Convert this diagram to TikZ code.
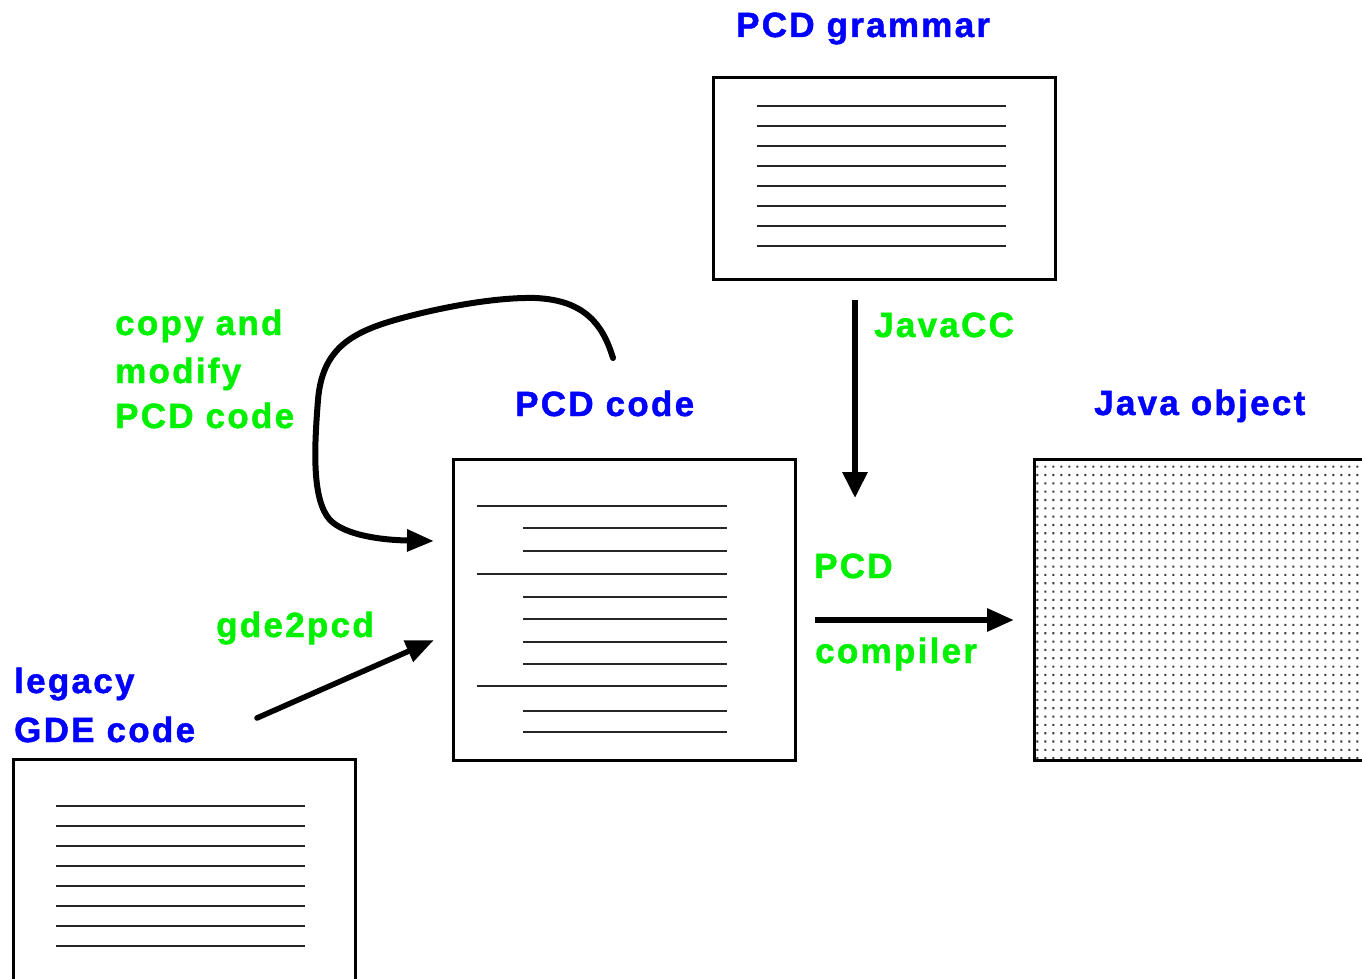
\documentclass[tikz,border=0pt]{standalone}
\usepackage{fontspec}
\setmainfont{Liberation Sans}[LetterSpace=6.5, BoldFeatures={FakeBold=1.3}]
\usetikzlibrary{arrows.meta}
\definecolor{lblue}{RGB}{0,0,255}
\definecolor{lgreen}{RGB}{0,240,0}
\definecolor{dotgray}{RGB}{60,60,60}
\tikzset{
  docbox/.style={draw=black, line width=3pt, fill=white, inner sep=0pt},
  txtline/.style={line width=2pt, draw=black!85},
  flow/.style={line width=6pt, -{Triangle[length=26pt,width=24pt]}},
  bluelbl/.style={text=lblue, font=\fontsize{35}{42}\selectfont\bfseries, inner sep=0pt, anchor=base west},
  greenlbl/.style={text=lgreen, font=\fontsize{35}{42}\selectfont\bfseries, inner sep=0pt, anchor=base west}
}
\begin{document}
\begin{tikzpicture}[x=1pt,y=-1pt]
\useasboundingbox (0,0) rectangle (1362,979);
\clip (0,0) rectangle (1362,979);

% PCD grammar box
\node[docbox, minimum width=342pt, minimum height=201pt] (grammar) at (884,178.5) {};
\foreach \yy in {106,126,146,166,186,206,226,246}
  \draw[txtline] (757,\yy) -- (1006,\yy);

% PCD code box
\node[docbox, minimum width=342pt, minimum height=301pt] (code) at (624,609.5) {};
\foreach \yy in {506,574,686}
  \draw[txtline] (477,\yy) -- (727,\yy);
\foreach \yy in {528,551,597,619,642,664,711,732}
  \draw[txtline] (523,\yy) -- (727,\yy);

% legacy box
\node[docbox, minimum width=342pt, minimum height=240pt] (legacy) at (184,879) {};
\foreach \yy in {806,826,846,866,886,906,926,946}
  \draw[txtline] (56,\yy) -- (305,\yy);

% Java object box
\node[docbox, minimum width=360pt, minimum height=301pt] (java) at (1214,609.5) {};
\fill[dotgray]
  \foreach \i in {0,...,40} {
    \foreach \j in {0,...,35} {
      ({1036.3+8*\i},{465.6+8.33*\j}) rectangle ++(2.1,2.1)
    }
  };
\draw[line width=3pt] (1362,459) -- (1034,459) -- (1034,760) -- (1362,760);

% labels
\node[bluelbl] (lgram) at (736,37) {PCD grammar};
\node[bluelbl] (lcode) at (515,416) {PCD code};
\node[bluelbl] (ljava) at (1094,415) {Java object};
\node[bluelbl] (lleg1) at (14,693) {legacy};
\node[bluelbl] (lleg2) at (14,742) {GDE code};
\node[greenlbl] (ljcc) at (874,337) {JavaCC};
\node[greenlbl] (lcp1) at (115,335) {copy and};
\node[greenlbl] (lcp2) at (115,383) {modify};
\node[greenlbl] (lcp3) at (115,428) {PCD code};
\node[greenlbl] (lpcd) at (814,578) {PCD};
\node[greenlbl] (lcomp) at (815,663) {compiler};
\node[greenlbl] (lgde) at (216,637) {gde2pcd};

% connector end points
\coordinate (jccS) at (855,300);
\coordinate (jccE) at (855,498);
\coordinate (compS) at (815,620);
\coordinate (compE) at (1014,620);
\coordinate (gdeS) at (257,718);
\coordinate (gdeE) at (434,640);
\coordinate (cpS) at (613,358);
\coordinate (cpE) at (434,541);

% connectors
\draw[flow, line cap=butt] (jccS) -- (jccE);
\draw[line width=6pt, -{Triangle[length=27pt,width=22pt]}] (compS) -- (compE);
\draw[line width=5.5pt, line cap=round, -{Triangle[length=28pt,width=22pt]}] (gdeS) -- (gdeE);
\draw[line width=6pt, line cap=round, -{Triangle[length=27pt,width=21pt]}]
  (cpS) .. controls (603,325) and (585,300) .. (535,298)
        .. controls (490,297) and (430,310) .. (395,320)
        .. controls (350,333) and (322,350) .. (318,400)
        .. controls (314,450) and (312,500) .. (330,520)
        .. controls (345,535) and (380,540) .. (cpE);
\end{tikzpicture}
\end{document}
